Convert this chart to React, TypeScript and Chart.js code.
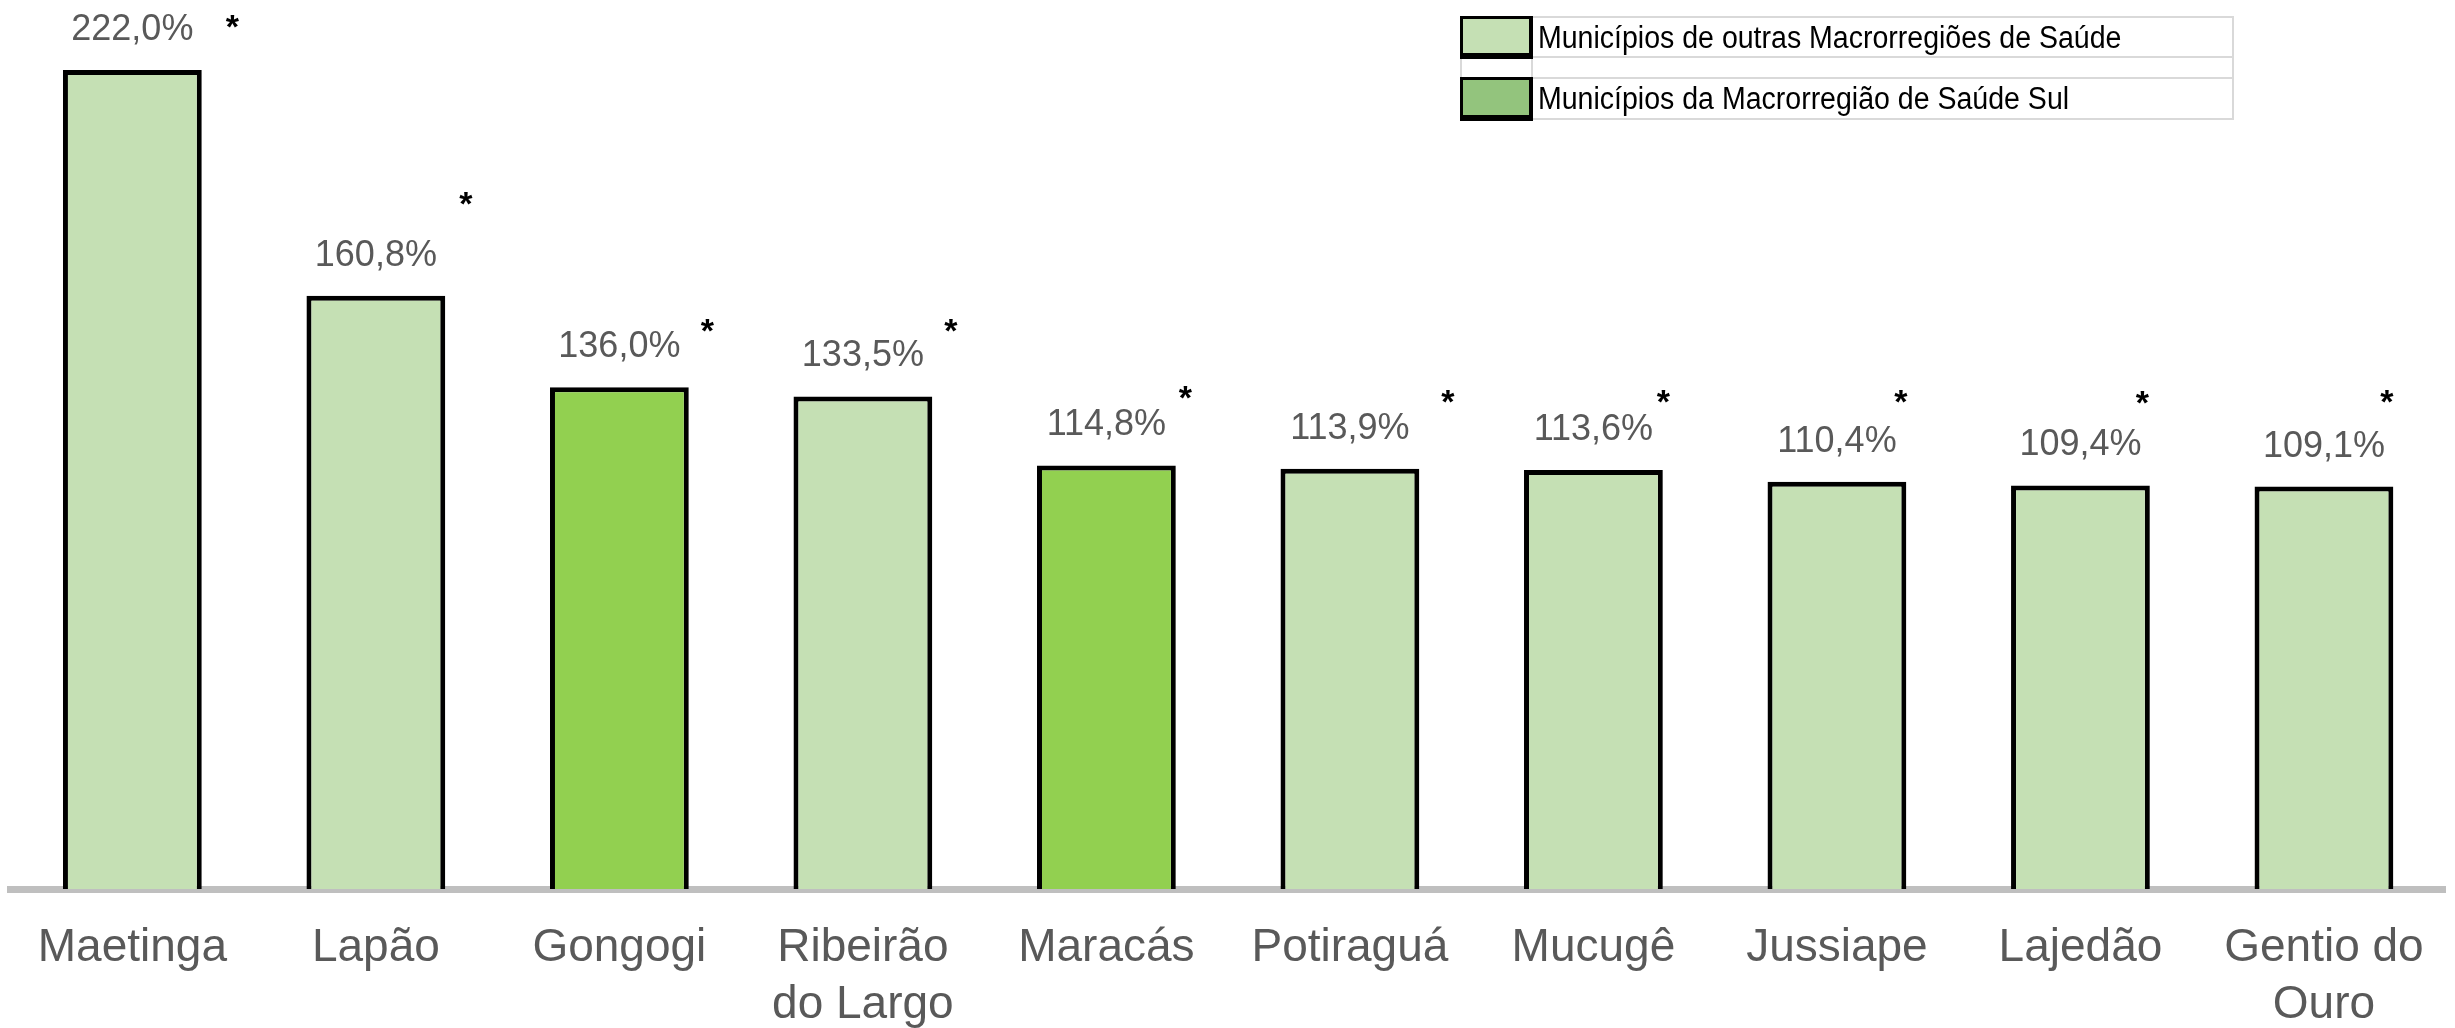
import { useEffect, useRef } from 'react';
import { Chart, registerables } from 'chart.js';

Chart.register(...registerables);

// ---- Data ----
const CATEGORIES: (string | string[])[] = [
  'Maetinga',
  'Lapão',
  'Gongogi',
  ['Ribeirão', 'do Largo'],
  'Maracás',
  'Potiraguá',
  'Mucugê',
  'Jussiape',
  'Lajedão',
  ['Gentio do', 'Ouro'],
];
const VALUES = [222.0, 160.8, 136.0, 133.5, 114.8, 113.9, 113.6, 110.4, 109.4, 109.1];
// 'outras' = other health macro-regions, 'sul' = South macro-region
const GROUPS = ['outras', 'outras', 'sul', 'outras', 'sul', 'outras', 'outras', 'outras', 'outras', 'outras'];
const SIGNIFICANT = [true, true, true, true, true, true, true, true, true, true];
const LEGEND_LABELS = [
  'Municípios de outras Macrorregiões de Saúde',
  'Municípios da Macrorregião de Saúde Sul',
];
const LEGEND_GROUPS = ['outras', 'sul'];
const Y_MAX = 240;

// ---- Styling / layout (not data) ----
const BAR_COLORS: Record<string, string> = { outras: '#c5e0b4', sul: '#92d050' };
const LEGEND_COLORS: Record<string, string> = { outras: '#c5e0b4', sul: '#93c47d' };
// asterisk annotation offsets relative to top-centre of each bar
const ASTERISK_OFFSETS: [number, number][] = [
  [100, -49], [90, -97], [88, -62], [88, -71], [79, -73],
  [98, -72], [70, -73], [64, -85], [62, -88], [63, -90],
];
const FONT = '"Liberation Sans", Arial, sans-serif';

const fmt = (v: number) => v.toFixed(1).replace('.', ',') + '%';

const labelsPlugin = {
  id: 'valueLabels',
  afterDatasetsDraw(chart: any) {
    const ctx = chart.ctx;
    const meta = chart.getDatasetMeta(0);
    ctx.save();
    meta.data.forEach((bar: any, i: number) => {
      ctx.font = `36px ${FONT}`;
      ctx.fillStyle = '#595959';
      ctx.textAlign = 'center';
      ctx.textBaseline = 'alphabetic';
      ctx.fillText(fmt(VALUES[i]), bar.x, bar.y - 30);
      if (SIGNIFICANT[i]) {
        const [dx, dy] = ASTERISK_OFFSETS[i];
        ctx.font = `bold 34px ${FONT}`;
        ctx.fillStyle = '#000000';
        const m = ctx.measureText('*');
        const asc = m.actualBoundingBoxAscent;
        const desc = m.actualBoundingBoxDescent;
        ctx.fillText('*', bar.x + dx, bar.y + dy + (asc - desc) / 2);
      }
    });
    ctx.restore();
  },
};

const legendPlugin = {
  id: 'tableLegend',
  afterDraw(chart: any) {
    const ctx = chart.ctx;
    ctx.save();
    const left = 1461;
    const right = 2233;
    const split = 1532;
    const rows = [
      [17, 57],
      [78, 119],
    ];
    ctx.strokeStyle = '#d9d9d9';
    ctx.lineWidth = 2;
    ctx.strokeRect(left, 17, right - left, 119 - 17);
    ctx.beginPath();
    ctx.moveTo(left, 57);
    ctx.lineTo(right, 57);
    ctx.moveTo(left, 78);
    ctx.lineTo(right, 78);
    ctx.moveTo(split, 17);
    ctx.lineTo(split, 119);
    ctx.stroke();
    rows.forEach(([t, b], i) => {
      ctx.fillStyle = '#000000';
      ctx.fillRect(left - 1, t - 1, split - left + 2, b - t + 3);
      ctx.fillStyle = LEGEND_COLORS[LEGEND_GROUPS[i]];
      ctx.fillRect(left + 2, t + 2, split - left - 5, b - t - 6);
      // narrow-looking text: taller font, compressed horizontally
      ctx.fillStyle = '#000000';
      ctx.font = `31px ${FONT}`;
      ctx.textAlign = 'left';
      ctx.textBaseline = 'alphabetic';
      ctx.save();
      ctx.translate(1538, t + 31);
      ctx.scale(0.92, 1);
      ctx.fillText(LEGEND_LABELS[i], 0, 0);
      ctx.restore();
    });
    ctx.restore();
  },
};

export default function App() {
  const canvasRef = useRef<HTMLCanvasElement | null>(null);

  useEffect(() => {
    if (!canvasRef.current) return;
    const chart = new Chart(canvasRef.current, {
      type: 'bar',
      data: {
        labels: CATEGORIES as any,
        datasets: [
          {
            data: VALUES,
            backgroundColor: GROUPS.map((g) => BAR_COLORS[g]),
            borderColor: '#000000',
            borderWidth: 5,
            barPercentage: 0.57,
            categoryPercentage: 1,
          },
        ],
      },
      options: {
        animation: false,
        responsive: true,
        maintainAspectRatio: false,
        layout: { padding: { left: 10.6, right: 6.4, top: 3.6, bottom: 0 } },
        plugins: {
          legend: { display: false },
          tooltip: { enabled: false },
        },
        scales: {
          x: {
            z: 1,
            grid: { display: false, drawTicks: false },
            border: { display: true, color: '#bfbfbf', width: 7 },
            ticks: {
              color: '#595959',
              font: { family: FONT, size: 46, lineHeight: 1.24 },
              padding: 31,
              maxRotation: 0,
              autoSkip: false,
            },
            afterFit: (scale: any) => {
              scale.height = 139;
            },
          },
          y: {
            display: false,
            min: 0,
            max: Y_MAX,
          },
        },
      },
      plugins: [labelsPlugin, legendPlugin],
    });
    return () => chart.destroy();
  }, []);

  return (
    <div style={{ position: 'absolute', left: 0, top: 0, width: 2455, height: 1028, background: '#ffffff' }}>
      <canvas ref={canvasRef} />
    </div>
  );
}
